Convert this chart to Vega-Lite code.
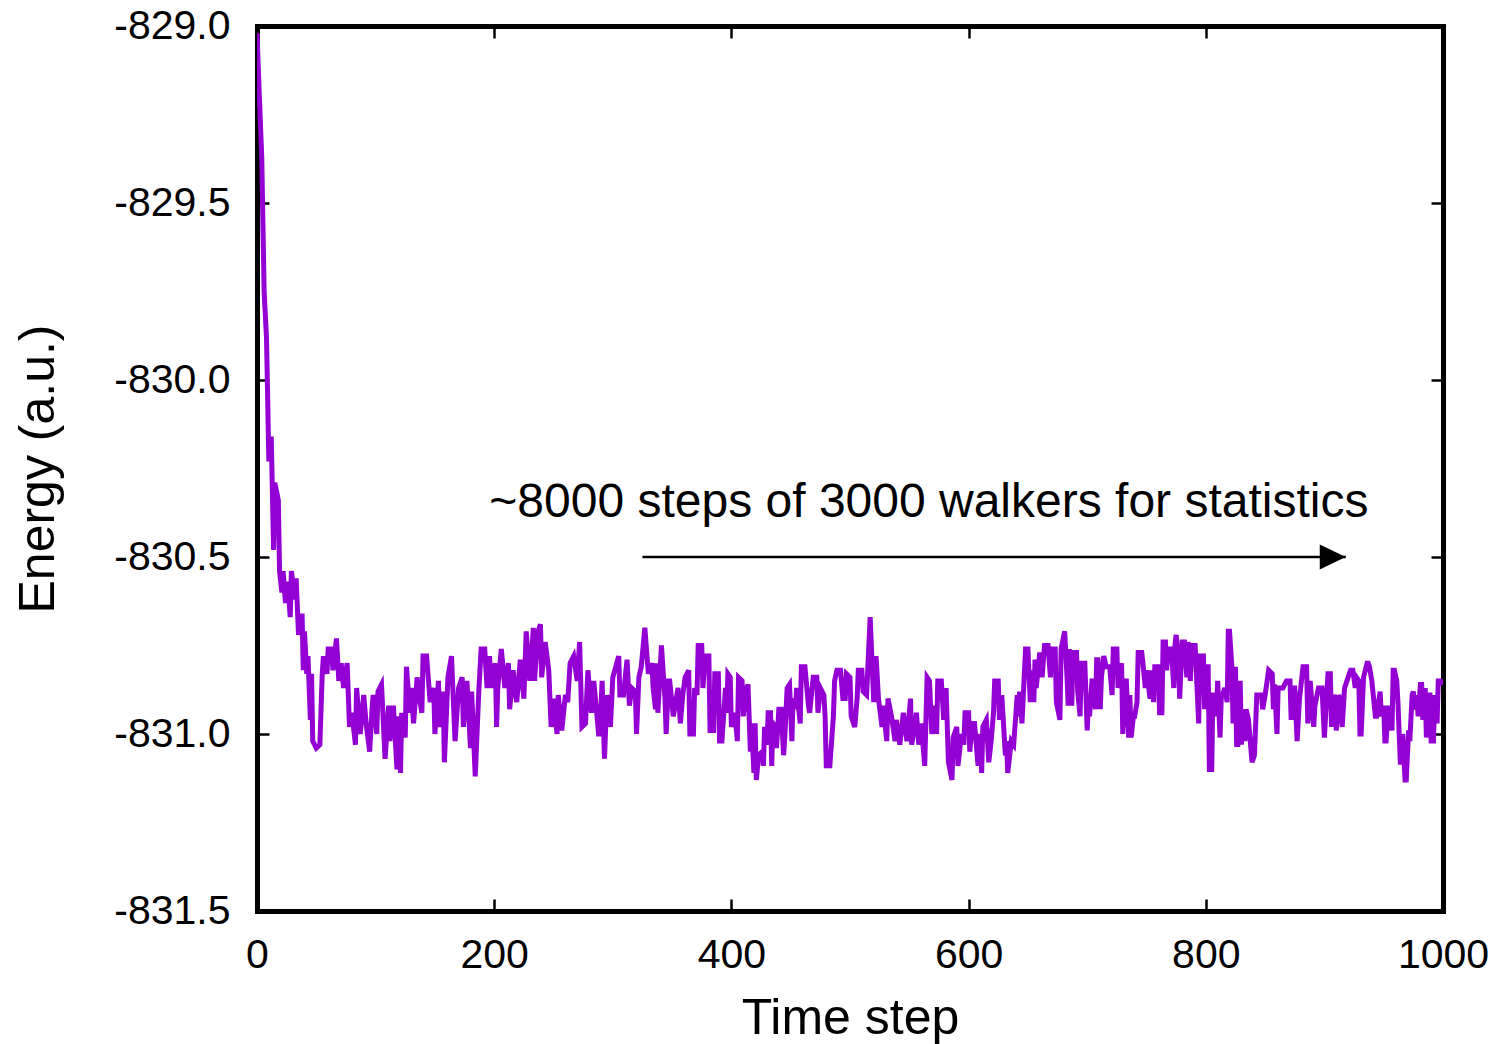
{
"$schema":"https://vega.github.io/schema/vega-lite/v6.json",
"width":1186,"height":885,
"autosize":{"type":"none"},
"padding":{"left":257,"top":26,"right":56,"bottom":133},
"background":"white",
"config":{"view":{"stroke":null},"font":"Liberation Sans",
"axis":{"domain":true,"domainColor":"black","domainWidth":5,"domainCap":"square","grid":false,"tickColor":"black","tickWidth":2.5,"tickSize":-12,"labelColor":"black","titleColor":"black","labelFontSize":41,"titleFontSize":50,"titleFontWeight":"normal","labelFlush":false,"labelOverlap":false}},
"datasets":{
"energy":[
{"t":0,"e":-829.02},{"t":2,"e":-829.2},{"t":4,"e":-829.37},{"t":6,"e":-829.75},{"t":8,"e":-829.88},{"t":10,"e":-830.23},{"t":12,"e":-830.16},{"t":14,"e":-830.48},{"t":15,"e":-830.29},{"t":18,"e":-830.34},{"t":19,"e":-830.54},{"t":21,"e":-830.6},{"t":22,"e":-830.54},{"t":24,"e":-830.63},{"t":26,"e":-830.57},{"t":28,"e":-830.67},{"t":29,"e":-830.54},{"t":32,"e":-830.62},{"t":33,"e":-830.56},{"t":35,"e":-830.72},{"t":38,"e":-830.66},{"t":39,"e":-830.82},{"t":40,"e":-830.71},{"t":42,"e":-830.83},{"t":43,"e":-830.78},{"t":45,"e":-830.96},{"t":46,"e":-830.83},{"t":47,"e":-831.02},{"t":50,"e":-831.04},{"t":53,"e":-831.03},{"t":55,"e":-830.83},{"t":56,"e":-830.78},{"t":59,"e":-830.83},{"t":60,"e":-830.76},{"t":63,"e":-830.76},{"t":64,"e":-830.82},{"t":67,"e":-830.73},{"t":69,"e":-830.85},{"t":71,"e":-830.8},{"t":73,"e":-830.87},{"t":76,"e":-830.8},{"t":78,"e":-830.98},{"t":80,"e":-830.94},{"t":83,"e":-831.03},{"t":84,"e":-830.87},{"t":87,"e":-831.0},{"t":90,"e":-830.89},{"t":92,"e":-830.97},{"t":95,"e":-831.05},{"t":97,"e":-830.93},{"t":98,"e":-830.89},{"t":101,"e":-831.0},{"t":102,"e":-830.88},{"t":105,"e":-830.86},{"t":108,"e":-831.07},{"t":111,"e":-830.92},{"t":112,"e":-831.02},{"t":115,"e":-830.92},{"t":118,"e":-831.1},{"t":119,"e":-830.95},{"t":121,"e":-831.11},{"t":122,"e":-830.94},{"t":125,"e":-831.01},{"t":126,"e":-830.81},{"t":129,"e":-830.94},{"t":130,"e":-830.87},{"t":132,"e":-830.97},{"t":135,"e":-830.84},{"t":137,"e":-830.9},{"t":139,"e":-830.94},{"t":140,"e":-830.78},{"t":143,"e":-830.78},{"t":146,"e":-830.91},{"t":149,"e":-830.87},{"t":150,"e":-831.0},{"t":153,"e":-830.85},{"t":154,"e":-830.98},{"t":157,"e":-830.88},{"t":158,"e":-831.08},{"t":161,"e":-830.84},{"t":164,"e":-830.78},{"t":167,"e":-831.02},{"t":170,"e":-830.87},{"t":173,"e":-830.84},{"t":174,"e":-830.98},{"t":177,"e":-830.85},{"t":180,"e":-831.04},{"t":181,"e":-830.88},{"t":184,"e":-831.12},{"t":187,"e":-830.88},{"t":189,"e":-830.76},{"t":192,"e":-830.76},{"t":194,"e":-830.87},{"t":196,"e":-830.78},{"t":198,"e":-830.87},{"t":201,"e":-830.8},{"t":202,"e":-830.98},{"t":203,"e":-830.87},{"t":206,"e":-830.76},{"t":209,"e":-830.87},{"t":212,"e":-830.8},{"t":213,"e":-830.93},{"t":216,"e":-830.82},{"t":218,"e":-830.89},{"t":219,"e":-830.91},{"t":222,"e":-830.79},{"t":225,"e":-830.9},{"t":227,"e":-830.71},{"t":230,"e":-830.85},{"t":233,"e":-830.7},{"t":234,"e":-830.85},{"t":237,"e":-830.71},{"t":239,"e":-830.69},{"t":240,"e":-830.84},{"t":243,"e":-830.74},{"t":246,"e":-830.82},{"t":248,"e":-830.98},{"t":250,"e":-830.9},{"t":253,"e":-831.0},{"t":254,"e":-830.89},{"t":257,"e":-830.99},{"t":260,"e":-830.89},{"t":262,"e":-830.91},{"t":264,"e":-830.8},{"t":267,"e":-830.78},{"t":270,"e":-830.85},{"t":272,"e":-830.74},{"t":274,"e":-830.98},{"t":277,"e":-830.97},{"t":279,"e":-830.82},{"t":282,"e":-830.94},{"t":284,"e":-830.85},{"t":288,"e":-831.0},{"t":289,"e":-831.0},{"t":291,"e":-830.85},{"t":293,"e":-831.07},{"t":295,"e":-830.89},{"t":298,"e":-830.98},{"t":300,"e":-830.84},{"t":305,"e":-830.78},{"t":306,"e":-830.89},{"t":309,"e":-830.89},{"t":312,"e":-830.79},{"t":314,"e":-830.92},{"t":316,"e":-830.87},{"t":319,"e":-830.88},{"t":320,"e":-831.0},{"t":322,"e":-830.84},{"t":324,"e":-830.81},{"t":327,"e":-830.7},{"t":330,"e":-830.83},{"t":333,"e":-830.8},{"t":334,"e":-830.87},{"t":336,"e":-830.93},{"t":337,"e":-830.8},{"t":338,"e":-830.94},{"t":341,"e":-830.75},{"t":344,"e":-830.9},{"t":345,"e":-831.0},{"t":347,"e":-830.85},{"t":348,"e":-830.85},{"t":351,"e":-830.95},{"t":354,"e":-830.89},{"t":355,"e":-830.87},{"t":357,"e":-830.97},{"t":359,"e":-830.89},{"t":361,"e":-830.84},{"t":364,"e":-830.82},{"t":365,"e":-831.0},{"t":368,"e":-831.0},{"t":369,"e":-830.87},{"t":371,"e":-830.89},{"t":372,"e":-830.75},{"t":375,"e":-830.75},{"t":376,"e":-830.87},{"t":378,"e":-830.78},{"t":381,"e":-830.78},{"t":382,"e":-830.99},{"t":385,"e":-830.99},{"t":386,"e":-830.83},{"t":389,"e":-830.83},{"t":390,"e":-831.02},{"t":392,"e":-831.02},{"t":395,"e":-830.87},{"t":396,"e":-830.94},{"t":397,"e":-830.83},{"t":399,"e":-830.84},{"t":400,"e":-830.98},{"t":403,"e":-830.94},{"t":405,"e":-831.02},{"t":406,"e":-830.84},{"t":409,"e":-830.85},{"t":410,"e":-830.95},{"t":413,"e":-830.87},{"t":414,"e":-830.86},{"t":416,"e":-831.05},{"t":417,"e":-830.97},{"t":419,"e":-831.11},{"t":420,"e":-830.97},{"t":421,"e":-831.13},{"t":423,"e":-831.06},{"t":426,"e":-831.05},{"t":427,"e":-831.09},{"t":428,"e":-830.98},{"t":430,"e":-831.03},{"t":431,"e":-830.94},{"t":433,"e":-830.94},{"t":434,"e":-831.09},{"t":435,"e":-830.97},{"t":437,"e":-830.98},{"t":438,"e":-831.04},{"t":440,"e":-830.93},{"t":442,"e":-830.93},{"t":444,"e":-831.06},{"t":445,"e":-831.01},{"t":447,"e":-830.87},{"t":449,"e":-830.86},{"t":451,"e":-831.02},{"t":452,"e":-830.9},{"t":454,"e":-830.93},{"t":455,"e":-830.87},{"t":458,"e":-830.97},{"t":459,"e":-830.81},{"t":462,"e":-830.81},{"t":465,"e":-830.92},{"t":466,"e":-830.94},{"t":469,"e":-830.84},{"t":472,"e":-830.84},{"t":473,"e":-830.94},{"t":475,"e":-830.87},{"t":478,"e":-830.89},{"t":479,"e":-830.95},{"t":480,"e":-831.09},{"t":483,"e":-831.09},{"t":486,"e":-830.95},{"t":487,"e":-830.85},{"t":489,"e":-830.82},{"t":492,"e":-830.82},{"t":494,"e":-830.9},{"t":496,"e":-830.9},{"t":497,"e":-830.83},{"t":500,"e":-830.84},{"t":501,"e":-830.95},{"t":504,"e":-830.98},{"t":506,"e":-830.9},{"t":507,"e":-830.82},{"t":510,"e":-830.82},{"t":511,"e":-830.88},{"t":514,"e":-830.89},{"t":517,"e":-830.67},{"t":520,"e":-830.91},{"t":522,"e":-830.78},{"t":524,"e":-830.9},{"t":527,"e":-830.98},{"t":528,"e":-830.92},{"t":531,"e":-831.02},{"t":532,"e":-830.9},{"t":535,"e":-830.95},{"t":538,"e":-831.02},{"t":539,"e":-830.96},{"t":542,"e":-831.03},{"t":545,"e":-830.94},{"t":548,"e":-831.02},{"t":551,"e":-830.9},{"t":552,"e":-831.03},{"t":555,"e":-830.97},{"t":556,"e":-830.94},{"t":558,"e":-831.03},{"t":560,"e":-830.97},{"t":563,"e":-831.09},{"t":565,"e":-830.84},{"t":567,"e":-830.85},{"t":569,"e":-831.0},{"t":572,"e":-830.92},{"t":573,"e":-831.0},{"t":574,"e":-830.85},{"t":577,"e":-830.85},{"t":579,"e":-830.96},{"t":581,"e":-830.87},{"t":583,"e":-831.08},{"t":586,"e":-831.13},{"t":587,"e":-831.01},{"t":590,"e":-830.98},{"t":591,"e":-831.09},{"t":594,"e":-831.0},{"t":596,"e":-831.03},{"t":597,"e":-830.94},{"t":600,"e":-830.94},{"t":601,"e":-831.05},{"t":603,"e":-830.97},{"t":605,"e":-830.97},{"t":608,"e":-831.09},{"t":610,"e":-831.0},{"t":611,"e":-831.11},{"t":612,"e":-830.98},{"t":615,"e":-830.96},{"t":617,"e":-831.08},{"t":619,"e":-831.02},{"t":621,"e":-830.94},{"t":622,"e":-830.85},{"t":625,"e":-830.85},{"t":626,"e":-830.96},{"t":628,"e":-830.89},{"t":631,"e":-831.06},{"t":632,"e":-831.02},{"t":633,"e":-831.11},{"t":636,"e":-831.02},{"t":638,"e":-831.03},{"t":641,"e":-830.89},{"t":642,"e":-830.95},{"t":643,"e":-830.88},{"t":645,"e":-830.97},{"t":648,"e":-830.76},{"t":650,"e":-830.76},{"t":652,"e":-830.91},{"t":653,"e":-830.82},{"t":655,"e":-830.91},{"t":656,"e":-830.79},{"t":657,"e":-830.87},{"t":660,"e":-830.77},{"t":662,"e":-830.84},{"t":664,"e":-830.75},{"t":667,"e":-830.75},{"t":669,"e":-830.84},{"t":670,"e":-830.76},{"t":673,"e":-830.76},{"t":674,"e":-830.91},{"t":677,"e":-830.96},{"t":678,"e":-830.76},{"t":681,"e":-830.71},{"t":683,"e":-830.84},{"t":684,"e":-830.92},{"t":685,"e":-830.76},{"t":687,"e":-830.92},{"t":688,"e":-830.77},{"t":691,"e":-830.77},{"t":692,"e":-830.88},{"t":694,"e":-830.95},{"t":695,"e":-830.8},{"t":698,"e":-830.8},{"t":700,"e":-830.99},{"t":701,"e":-830.91},{"t":702,"e":-830.95},{"t":704,"e":-830.85},{"t":705,"e":-830.85},{"t":707,"e":-830.93},{"t":708,"e":-830.79},{"t":709,"e":-830.79},{"t":711,"e":-830.93},{"t":712,"e":-830.84},{"t":714,"e":-830.78},{"t":716,"e":-830.81},{"t":719,"e":-830.81},{"t":721,"e":-830.89},{"t":722,"e":-830.76},{"t":725,"e":-830.76},{"t":726,"e":-830.87},{"t":729,"e":-830.8},{"t":730,"e":-831.0},{"t":732,"e":-830.85},{"t":733,"e":-830.85},{"t":735,"e":-831.01},{"t":736,"e":-830.89},{"t":737,"e":-831.01},{"t":739,"e":-830.95},{"t":740,"e":-830.95},{"t":742,"e":-830.91},{"t":743,"e":-830.77},{"t":746,"e":-830.77},{"t":747,"e":-830.8},{"t":749,"e":-830.87},{"t":750,"e":-830.82},{"t":753,"e":-830.9},{"t":754,"e":-830.82},{"t":756,"e":-830.91},{"t":757,"e":-830.81},{"t":760,"e":-830.81},{"t":761,"e":-830.94},{"t":763,"e":-830.94},{"t":764,"e":-830.74},{"t":766,"e":-830.74},{"t":767,"e":-830.82},{"t":768,"e":-830.76},{"t":771,"e":-830.76},{"t":773,"e":-830.87},{"t":774,"e":-830.75},{"t":775,"e":-830.72},{"t":777,"e":-830.81},{"t":778,"e":-830.9},{"t":780,"e":-830.74},{"t":782,"e":-830.74},{"t":784,"e":-830.84},{"t":785,"e":-830.74},{"t":787,"e":-830.85},{"t":788,"e":-830.75},{"t":791,"e":-830.75},{"t":794,"e":-830.97},{"t":795,"e":-830.78},{"t":798,"e":-830.78},{"t":799,"e":-830.93},{"t":801,"e":-830.81},{"t":802,"e":-830.81},{"t":803,"e":-831.1},{"t":805,"e":-831.1},{"t":806,"e":-830.89},{"t":808,"e":-830.89},{"t":809,"e":-830.95},{"t":810,"e":-830.85},{"t":812,"e":-831.01},{"t":813,"e":-830.9},{"t":815,"e":-830.88},{"t":816,"e":-830.87},{"t":818,"e":-830.91},{"t":819,"e":-830.71},{"t":820,"e":-830.71},{"t":822,"e":-830.81},{"t":823,"e":-830.97},{"t":825,"e":-830.81},{"t":826,"e":-831.03},{"t":827,"e":-831.03},{"t":829,"e":-830.85},{"t":830,"e":-831.03},{"t":832,"e":-830.93},{"t":833,"e":-831.02},{"t":834,"e":-830.93},{"t":836,"e":-830.96},{"t":839,"e":-831.08},{"t":840,"e":-831.07},{"t":841,"e":-831.06},{"t":843,"e":-830.89},{"t":844,"e":-830.89},{"t":847,"e":-830.89},{"t":848,"e":-830.93},{"t":850,"e":-830.89},{"t":853,"e":-830.82},{"t":856,"e":-830.83},{"t":857,"e":-830.93},{"t":858,"e":-830.86},{"t":860,"e":-831.0},{"t":861,"e":-830.87},{"t":864,"e":-830.87},{"t":865,"e":-830.87},{"t":868,"e":-830.85},{"t":871,"e":-830.85},{"t":872,"e":-830.96},{"t":874,"e":-830.87},{"t":875,"e":-830.87},{"t":877,"e":-831.02},{"t":879,"e":-830.9},{"t":882,"e":-830.81},{"t":885,"e":-830.81},{"t":886,"e":-830.97},{"t":888,"e":-830.85},{"t":891,"e":-830.98},{"t":892,"e":-830.92},{"t":895,"e":-830.87},{"t":898,"e":-830.87},{"t":899,"e":-830.94},{"t":900,"e":-831.01},{"t":903,"e":-830.83},{"t":905,"e":-830.83},{"t":906,"e":-830.98},{"t":908,"e":-830.89},{"t":909,"e":-830.9},{"t":910,"e":-830.99},{"t":912,"e":-830.89},{"t":913,"e":-830.9},{"t":915,"e":-830.98},{"t":917,"e":-830.87},{"t":919,"e":-830.85},{"t":922,"e":-830.82},{"t":924,"e":-830.82},{"t":926,"e":-830.87},{"t":927,"e":-830.84},{"t":929,"e":-830.85},{"t":930,"e":-831.0},{"t":931,"e":-831.0},{"t":933,"e":-830.84},{"t":936,"e":-830.8},{"t":937,"e":-830.8},{"t":938,"e":-830.81},{"t":940,"e":-830.85},{"t":943,"e":-830.95},{"t":944,"e":-830.95},{"t":947,"e":-830.88},{"t":948,"e":-830.95},{"t":950,"e":-830.92},{"t":951,"e":-831.02},{"t":952,"e":-831.02},{"t":954,"e":-830.92},{"t":957,"e":-830.99},{"t":958,"e":-830.82},{"t":959,"e":-830.82},{"t":961,"e":-830.85},{"t":962,"e":-830.91},{"t":964,"e":-831.08},{"t":965,"e":-831.08},{"t":966,"e":-831.0},{"t":968,"e":-831.13},{"t":969,"e":-831.13},{"t":971,"e":-830.99},{"t":972,"e":-831.02},{"t":974,"e":-830.89},{"t":975,"e":-830.88},{"t":976,"e":-830.93},{"t":978,"e":-830.89},{"t":979,"e":-830.95},{"t":981,"e":-830.86},{"t":982,"e":-830.86},{"t":983,"e":-830.96},{"t":985,"e":-830.87},{"t":986,"e":-831.01},{"t":988,"e":-830.89},{"t":989,"e":-830.89},{"t":990,"e":-831.02},{"t":992,"e":-831.02},{"t":993,"e":-830.89},{"t":995,"e":-830.97},{"t":996,"e":-830.85},{"t":998,"e":-830.85},{"t":1000,"e":-830.86}
],
"note":[{"t":566.5,"e":-830.386,"label":"~8000 steps of 3000 walkers for statistics"}],
"arrow":[{"t0":325,"t1":918,"e":-830.5}]
},
"layer":[
{"data":{"name":"energy"},
 "mark":{"type":"line","color":"#9400D3","strokeWidth":5,"clip":true},
 "encoding":{
  "x":{"field":"t","type":"quantitative","scale":{"domain":[0,1000],"nice":false,"zero":false},
   "axis":{"orient":"bottom","values":[0,200,400,600,800,1000],"format":"d","labelPadding":36,"labelDx":4,"title":"Time step","titlePadding":18}},
  "y":{"field":"e","type":"quantitative","scale":{"domain":[-831.5,-829],"nice":false,"zero":false},
   "axis":{"orient":"left","values":[-831.5,-831,-830.5,-830,-829.5,-829],"format":".1f","labelExpr":"replace(datum.label, '\u2212', '-')","labelPadding":39,"title":"Energy (a.u.)","titlePadding":50}}
 }},
{"data":{"name":"energy"},
 "mark":{"type":"line","opacity":0},
 "encoding":{
  "x":{"field":"t","type":"quantitative","scale":{"domain":[0,1000],"nice":false,"zero":false},
   "axis":{"orient":"top","values":[0,200,400,600,800,1000],"labels":false,"title":null}},
  "y":{"field":"e","type":"quantitative","scale":{"domain":[-831.5,-829],"nice":false,"zero":false},
   "axis":{"orient":"right","values":[-831.5,-831,-830.5,-830,-829.5,-829],"labels":false,"title":null}}
 }},
{"data":{"name":"arrow"},
 "mark":{"type":"rule","color":"black","strokeWidth":2.5},
 "encoding":{
  "x":{"field":"t0","type":"quantitative","axis":null},
  "x2":{"field":"t1"},
  "y":{"field":"e","type":"quantitative","axis":null}
 }},
{"data":{"name":"arrow"},
 "mark":{"type":"point","shape":"M -2 -0.96 L 0 0 L -2 0.96 Z","size":676,"filled":true,"color":"black","opacity":1,"strokeWidth":0},
 "encoding":{
  "x":{"field":"t1","type":"quantitative","axis":null},
  "y":{"field":"e","type":"quantitative","axis":null}
 }},
{"data":{"name":"note"},
 "mark":{"type":"text","fontSize":48,"color":"black","align":"center","baseline":"alphabetic","font":"Liberation Sans"},
 "encoding":{
  "x":{"field":"t","type":"quantitative","axis":null},
  "y":{"field":"e","type":"quantitative","axis":null},
  "text":{"field":"label"}
 }}
],
"resolve":{"axis":{"x":"independent","y":"independent"}}
}
